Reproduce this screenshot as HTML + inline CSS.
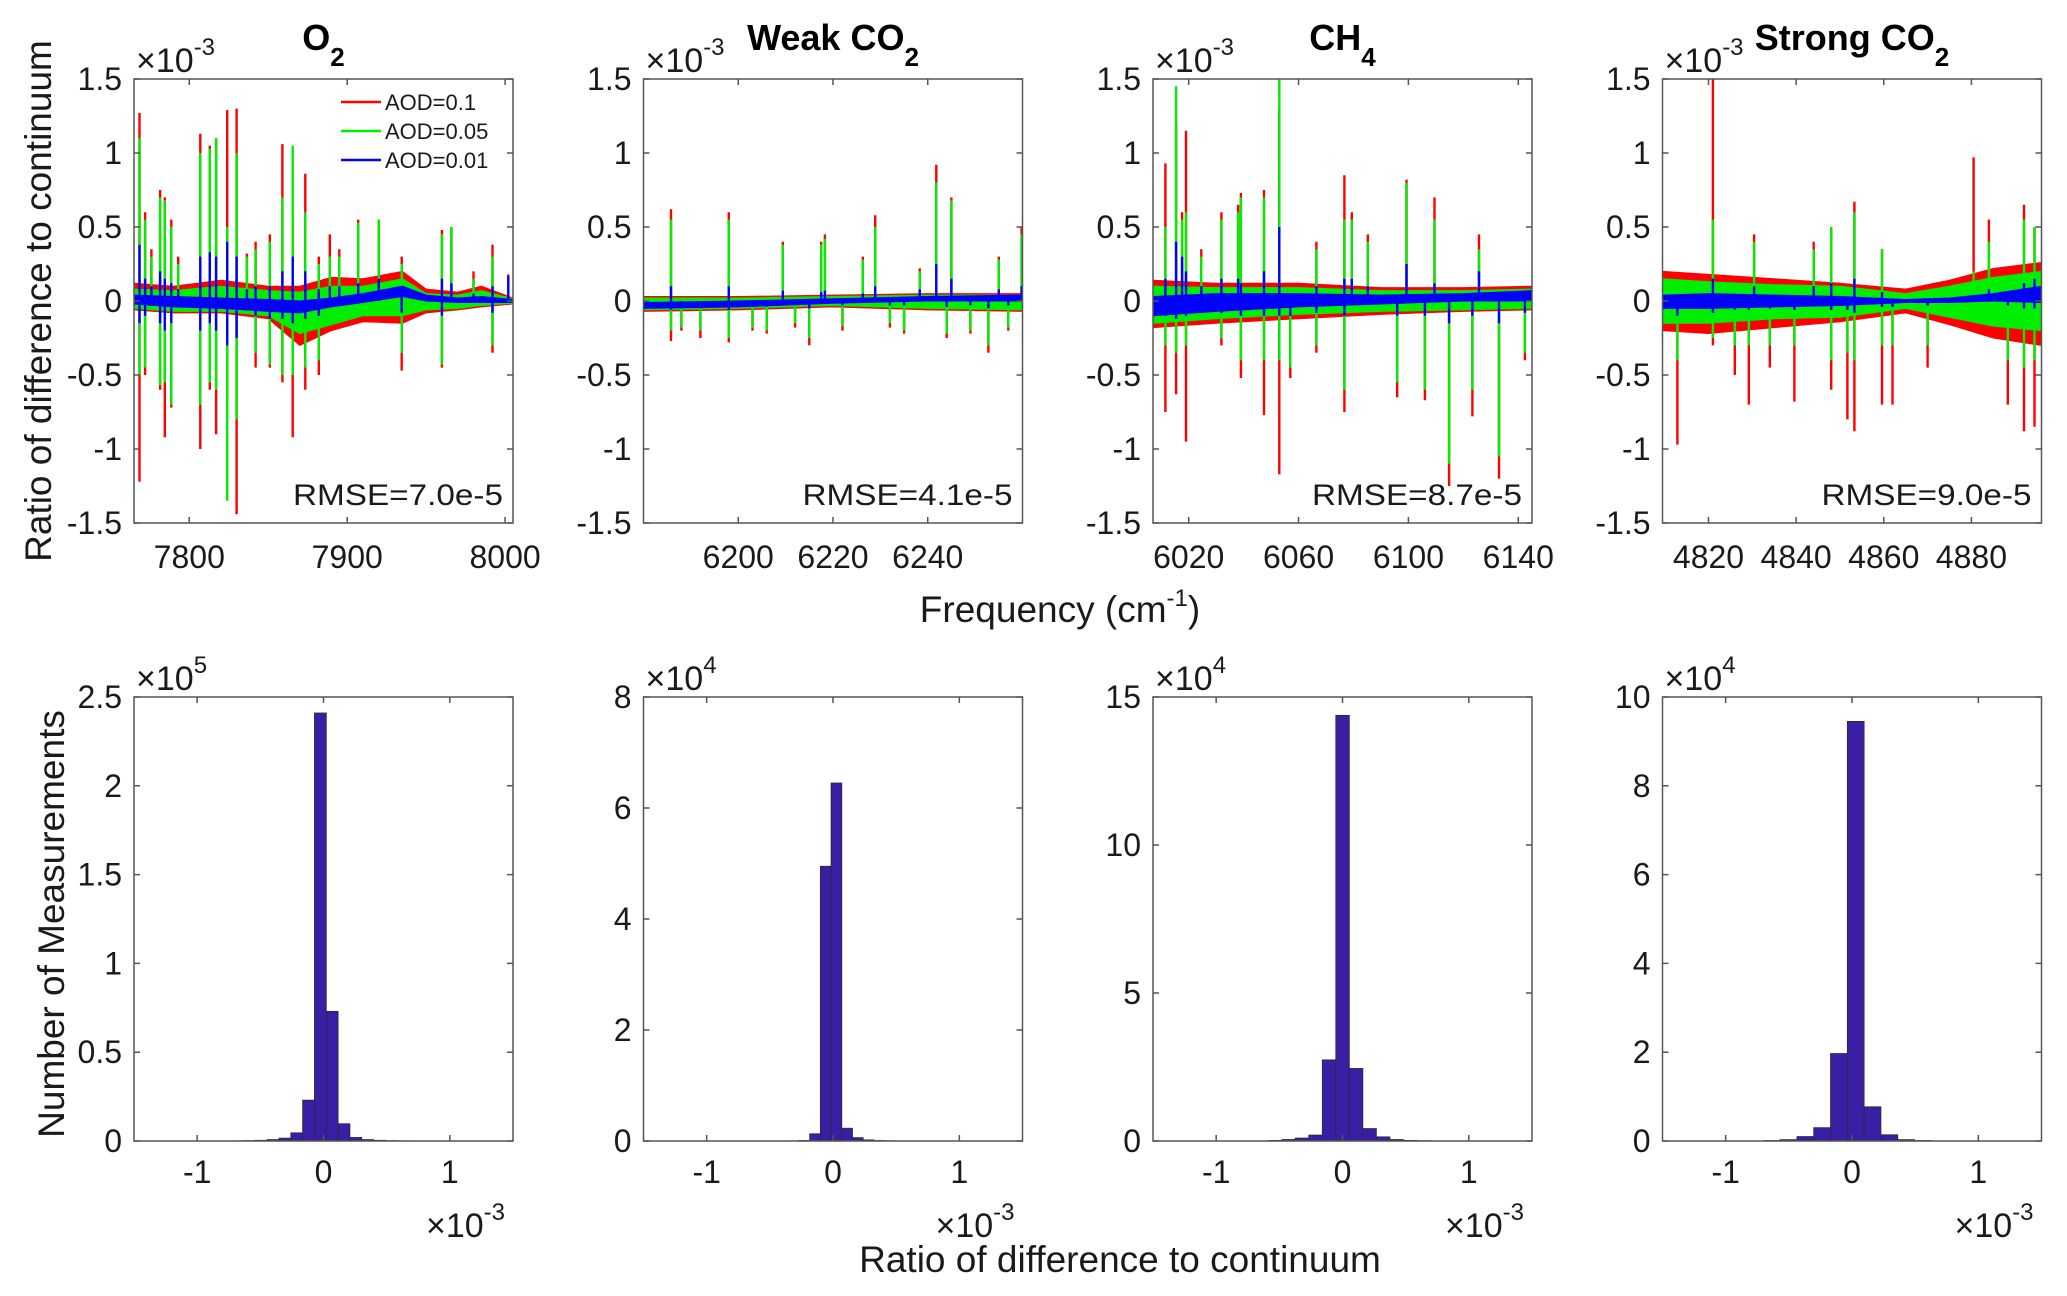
<!DOCTYPE html>
<html><head><meta charset="utf-8"><style>
html,body{margin:0;padding:0;background:#fff;}
svg{display:block;font-family:"Liberation Sans",Arial,sans-serif;}
</style></head><body>
<svg id="fig" xmlns="http://www.w3.org/2000/svg" width="2067" height="1296" viewBox="0 0 2067 1296">
<rect x="0" y="0" width="2067" height="1296" fill="#fff"/>
</svg>
<script>
// ---------- Spectra data (values in 1e-3) ----------
const o2EnvFreq = [7765,7790,7820,7850,7870,7890,7910,7935,7950,7970,7985,8005];
const o2RedHi = [0.12,0.1,0.14,0.1,0.1,0.16,0.15,0.2,0.08,0.06,0.1,0.02];
const o2RedLo = [-0.06,-0.08,-0.08,-0.12,-0.3,-0.2,-0.14,-0.15,-0.08,-0.06,-0.04,-0.02];
const o2GreenHi = [0.08,0.07,0.1,0.07,0.06,0.1,0.1,0.15,0.05,0.04,0.07,0.015];
const o2GreenLo = [-0.05,-0.07,-0.07,-0.1,-0.22,-0.16,-0.1,-0.1,-0.06,-0.05,-0.03,-0.015];
const o2BlueHi = [0.04,0.03,0.02,0.01,0.0,0.02,0.05,0.1,0.04,0.02,0.03,0.01];
const o2BlueLo = [-0.02,-0.04,-0.05,-0.07,-0.08,-0.04,-0.01,0.03,0.0,-0.01,-0.01,-0.01];
const o2SpikeFreq = [7768.5,7768.5,7772,7772,7776,7781.5,7781.5,7784.5,7784.5,7788.6,7788.6,7793,7807,7807,7813,7813,7817,7817,7824,7824,7830,7830,7836.5,7842,7842,7851,7851,7859,7859,7865.5,7865.5,7873.5,7873.5,7882,7882,7889,7895,7907,7920,7934.5,7934.5,7960,7960,7966,7980,7992,7992,8002];
const o2SpikeRed = [1.27,-1.22,0.6,-0.5,0.35,0.75,-0.6,0.7,-0.92,0.55,-0.72,0.3,1.13,-1.0,1.05,-0.6,1.1,-0.9,1.29,-0.65,1.3,-1.44,0.32,0.4,-0.45,0.45,-0.45,1.06,-0.55,0.55,-0.92,0.86,-0.6,0.3,-0.5,0.45,0.35,0.55,0.55,0.3,-0.47,0.48,-0.45,0.5,0.2,0.38,-0.35,0.18];
const o2SpikeGreen = [1.1,-0.5,0.55,-0.45,0.3,0.7,-0.57,0.68,-0.55,0.5,-0.7,0.25,1.0,-0.7,1.03,-0.55,1.1,-0.6,0.5,-1.35,1.0,-0.8,0.3,0.35,-0.35,0.4,-0.43,0.7,-0.5,1.05,-0.5,0.6,-0.45,0.25,-0.4,0.3,0.3,0.53,0.55,0.25,-0.35,0.45,-0.43,0.5,0.15,0.3,-0.3,0.17];
const o2SpikeBlue = [0.38,-0.15,0.15,-0.1,0.1,0.2,-0.15,0.15,-0.2,0.12,-0.15,0.08,0.3,-0.2,0.33,-0.15,0.3,-0.2,0.4,-0.3,0.3,-0.25,0.08,0.1,-0.1,0.1,-0.12,0.2,-0.12,0.3,-0.15,0.2,-0.12,0.08,-0.1,0.1,0.1,0.12,0.15,0.1,-0.08,0.15,-0.1,0.12,0.05,0.1,-0.08,0.17];

const wcEnvFreq = [6180,6200,6220,6240,6260];
const wcRedHi = [0.03,0.03,0.04,0.05,0.05];
const wcRedLo = [-0.07,-0.06,-0.04,-0.06,-0.07];
const wcGreenHi = [0.02,0.02,0.03,0.04,0.04];
const wcGreenLo = [-0.06,-0.05,-0.03,-0.05,-0.06];
const wcBlueHi = [-0.01,0.0,0.015,0.03,0.04];
const wcBlueLo = [-0.05,-0.04,-0.015,0.0,0.0];
const wcSpikeFreq = [6185.8,6185.8,6188,6192,6198,6198,6203,6206,6209.4,6212,6215,6217.5,6218.3,6222,6226.3,6228.9,6232,6235,6238.3,6241.8,6244,6245,6249,6252.8,6255,6257,6259.8];
const wcSpikeRed = [0.62,-0.27,-0.2,-0.25,0.6,-0.28,-0.2,-0.22,0.4,-0.18,-0.3,0.4,0.45,-0.2,0.3,0.58,-0.18,-0.22,0.22,0.92,-0.25,0.7,-0.22,-0.35,0.3,-0.2,0.5];
const wcSpikeGreen = [0.55,-0.2,-0.18,-0.2,0.55,-0.25,-0.18,-0.2,0.38,-0.15,-0.25,0.38,0.42,-0.17,0.28,0.5,-0.15,-0.2,0.2,0.8,-0.22,0.68,-0.2,-0.3,0.28,-0.18,0.45];
const wcSpikeBlue = [0.1,-0.06,-0.05,-0.05,0.1,-0.06,-0.04,-0.04,0.07,-0.03,-0.05,0.06,0.07,-0.03,0.05,0.1,-0.03,-0.03,0.08,0.25,-0.04,0.15,-0.03,-0.05,0.08,-0.03,0.1];

const chEnvFreq = [6007,6030,6060,6090,6120,6145];
const chRedHi = [0.14,0.12,0.12,0.09,0.09,0.1];
const chRedLo = [-0.18,-0.15,-0.12,-0.09,-0.07,-0.06];
const chGreenHi = [0.1,0.09,0.09,0.07,0.07,0.08];
const chGreenLo = [-0.15,-0.12,-0.09,-0.07,-0.06,-0.05];
const chBlueHi = [0.03,0.05,0.05,0.04,0.05,0.07];
const chBlueLo = [-0.1,-0.07,-0.04,-0.02,0.0,0.0];
const chSpikeFreq = [6011.5,6011.5,6015.4,6015.4,6017.6,6019,6019,6024.6,6031.9,6031.9,6038,6039,6039,6047.4,6047.4,6053,6053,6057,6066.5,6066.5,6076.7,6076.7,6079.4,6085.2,6095.9,6099.3,6106,6109.5,6114.8,6123.3,6125.7,6133,6142.4];
const chSpikeRed = [0.93,-0.75,1.2,-0.63,0.6,1.15,-0.95,0.35,0.6,-0.3,0.65,0.73,-0.52,0.75,-0.77,1.3,-1.17,-0.52,0.4,-0.35,0.85,-0.75,0.6,0.45,-0.65,0.82,-0.67,0.7,-1.25,-0.78,0.45,-1.2,-0.4];
const chSpikeGreen = [0.5,-0.3,1.45,-0.35,0.55,0.6,-0.3,0.3,0.55,-0.25,0.6,0.7,-0.4,0.7,-0.4,1.5,-0.4,-0.45,0.35,-0.3,0.55,-0.6,0.55,0.4,-0.55,0.8,-0.6,0.55,-1.1,-0.6,0.35,-1.05,-0.35];
const chSpikeBlue = [0.15,-0.1,0.4,-0.12,0.3,0.2,-0.1,0.1,0.15,-0.08,0.15,0.12,-0.1,0.2,-0.1,0.5,-0.1,-0.1,0.1,-0.08,0.15,-0.1,0.15,0.1,-0.1,0.25,-0.1,0.12,-0.15,-0.1,0.2,-0.15,-0.08];

const scEnvFreq = [4809.5,4820,4835,4850,4865,4875,4885,4896];
const scRedHi = [0.2,0.18,0.15,0.12,0.08,0.14,0.22,0.26];
const scRedLo = [-0.2,-0.22,-0.18,-0.14,-0.08,-0.16,-0.25,-0.3];
const scGreenHi = [0.15,0.13,0.11,0.1,0.05,0.1,0.16,0.2];
const scGreenLo = [-0.15,-0.15,-0.12,-0.11,-0.05,-0.11,-0.17,-0.2];
const scBlueHi = [0.04,0.05,0.04,0.03,0.01,0.02,0.05,0.1];
const scBlueLo = [-0.05,-0.05,-0.04,-0.03,-0.01,-0.01,0.0,-0.01];
const scSpikeFreq = [4812.9,4821,4821,4826,4829.2,4830.4,4834,4839.6,4844,4848,4848,4851.7,4853.3,4853.3,4859.6,4859.6,4862,4870,4880.5,4884,4888.3,4892,4892,4894.4,4894.4];
const scSpikeRed = [-0.97,1.5,-0.3,-0.5,-0.7,0.45,-0.45,-0.68,0.4,0.5,-0.6,-0.8,0.67,-0.88,0.35,-0.7,-0.7,-0.45,0.97,0.55,-0.7,0.65,-0.88,0.5,-0.85];
const scSpikeGreen = [-0.4,0.55,-0.25,-0.3,-0.3,0.4,-0.3,-0.3,0.35,0.5,-0.4,-0.35,0.6,-0.4,0.35,-0.3,-0.3,-0.3,0.2,0.4,-0.4,0.55,-0.45,0.5,-0.4];
const scSpikeBlue = [-0.1,0.15,-0.08,-0.06,-0.06,0.1,-0.05,-0.06,0.1,0.12,-0.06,-0.06,0.15,-0.08,0.06,-0.04,-0.04,-0.03,0.04,0.08,-0.03,0.12,-0.05,0.15,-0.05];

const o2XTicks = [7800,7900,8000];
const wcXTicks = [6200,6220,6240];
const chXTicks = [6020,6060,6100,6140];
const scXTicks = [4820,4840,4860,4880];
const specYTicks = [-1.5,-1,-0.5,0,0.5,1,1.5];
const specYLabels = ["-1.5","-1","-0.5","0","0.5","1","1.5"];
const rmseLabels = ["RMSE=7.0e-5","RMSE=4.1e-5","RMSE=8.7e-5","RMSE=9.0e-5"];
const panelTitles = ["O","Weak CO","CH","Strong CO"];
const titleSubs = ["2","2","4","2"];

// ---------- Histogram data (x in 1e-3, counts in panel exponent units) ----------
const o2BinStart = -0.726, o2BinWidth = 0.0935;
const o2Counts = [0.001,0.002,0.004,0.008,0.016,0.046,0.23,2.41,0.73,0.097,0.02,0.008,0.004,0.002,0.001];
const wcBinStart = -0.354, wcBinWidth = 0.0847;
const wcCounts = [0.003,0.01,0.13,4.95,6.45,0.23,0.06,0.02,0.008,0.004];
const chBinStart = -0.588, chBinWidth = 0.107;
const chCounts = [0.02,0.05,0.1,0.2,2.74,14.38,2.45,0.42,0.14,0.05,0.02,0.01];
const scBinStart = -0.702, scBinWidth = 0.133;
const scCounts = [0.01,0.03,0.1,0.3,1.97,9.45,0.77,0.14,0.03,0.01];
const histXTicks = [-1,0,1];
const o2HistYTicks = [0,0.5,1,1.5,2,2.5];
const wcHistYTicks = [0,2,4,6,8];
const chHistYTicks = [0,5,10,15];
const scHistYTicks = [0,2,4,6,8,10];
const histExponents = ["5","4","4","4"];

const NS = "http://www.w3.org/2000/svg";
const svg = document.getElementById('fig');
function mk(tag, attrs, parent) {
  const e = document.createElementNS(NS, tag);
  for (const k in attrs) e.setAttribute(k, attrs[k]);
  (parent || svg).appendChild(e);
  return e;
}
const PL = [134, 643.5, 1153, 1662.5], PW = 379;
const TOP1 = 79, BOT1 = 523, TOP2 = 697, BOT2 = 1141;
const AX = "#555";
const TICK = 32;

function txt(str, x, y, size, anchor, parent, weight) {
  const t = mk('text', {x: x, y: y, 'font-size': size, 'text-anchor': anchor || 'middle', fill: '#1a1a1a'}, parent);
  if (weight) t.setAttribute('font-weight', weight);
  t.textContent = str;
  return t;
}
function expLabel(x, y, exp, parent, anchor) {
  const t = mk('text', {x: x, y: y, 'font-size': 34, fill: '#1a1a1a', 'text-anchor': anchor || 'start'}, parent);
  const a = document.createElementNS(NS, 'tspan'); a.textContent = '\u00d710'; t.appendChild(a);
  const b = document.createElementNS(NS, 'tspan'); b.setAttribute('dy', -17); b.setAttribute('font-size', 24); b.textContent = exp; t.appendChild(b);
  return t;
}

const specPanels = [
  {key:'o2', xmin:7765, xmax:8005, ticks:o2XTicks, env:[o2EnvFreq,o2RedHi,o2RedLo,o2GreenHi,o2GreenLo,o2BlueHi,o2BlueLo], sp:[o2SpikeFreq,o2SpikeRed,o2SpikeGreen,o2SpikeBlue]},
  {key:'weak-co2', xmin:6180, xmax:6260, ticks:wcXTicks, env:[wcEnvFreq,wcRedHi,wcRedLo,wcGreenHi,wcGreenLo,wcBlueHi,wcBlueLo], sp:[wcSpikeFreq,wcSpikeRed,wcSpikeGreen,wcSpikeBlue]},
  {key:'ch4', xmin:6007, xmax:6145, ticks:chXTicks, env:[chEnvFreq,chRedHi,chRedLo,chGreenHi,chGreenLo,chBlueHi,chBlueLo], sp:[chSpikeFreq,chSpikeRed,chSpikeGreen,chSpikeBlue]},
  {key:'strong-co2', xmin:4809.5, xmax:4896, ticks:scXTicks, env:[scEnvFreq,scRedHi,scRedLo,scGreenHi,scGreenLo,scBlueHi,scBlueLo], sp:[scSpikeFreq,scSpikeRed,scSpikeGreen,scSpikeBlue]}
];
const colors = ['#ff0000','#00ee00','#0000ff'];
const seriesNames = ['aod-0.1','aod-0.05','aod-0.01'];

specPanels.forEach((p, i) => {
  const L = PL[i], R = L + PW;
  const xs = v => L + (v - p.xmin) / (p.xmax - p.xmin) * PW;
  const ys = v => BOT1 - (v + 1.5) / 3 * (BOT1 - TOP1);
  const g = mk('g', {});
  
  
  const clipId = 'clip' + i;
  const cp = mk('clipPath', {id: clipId}, g);
  mk('rect', {x: L, y: TOP1, width: PW, height: BOT1 - TOP1}, cp);
  const plot = mk('g', {'clip-path': 'url(#' + clipId + ')'}, g);
  for (let s = 0; s < 3; s++) {
    const f = p.env[0], hi = p.env[1 + s * 2], lo = p.env[2 + s * 2];
    let pts = [];
    for (let k = 0; k < f.length; k++) pts.push(xs(f[k]) + ',' + ys(hi[k]));
    for (let k = f.length - 1; k >= 0; k--) pts.push(xs(f[k]) + ',' + ys(lo[k]));
    const band = mk('polygon', {points: pts.join(' '), fill: colors[s], stroke: colors[s], 'stroke-width': 1}, plot);
    
    
    const sf = p.sp[0], sv = p.sp[1 + s];
    const n = Math.min(sf.length, sv.length);
    let d = '';
    for (let k = 0; k < n; k++) d += 'M' + xs(sf[k]).toFixed(1) + ',' + ys(0).toFixed(1) + 'V' + ys(sv[k]).toFixed(1);
    const sp = mk('path', {d: d, stroke: colors[s], 'stroke-width': 2.4, fill: 'none'}, plot);
    
    
  }
  const box = mk('rect', {x: L, y: TOP1, width: PW, height: BOT1 - TOP1, fill: 'none', stroke: AX, 'stroke-width': 1.5}, g);
  
  
  p.ticks.forEach(t => {
    const x = xs(t);
    mk('path', {d: 'M' + x + ',' + BOT1 + 'v-6M' + x + ',' + TOP1 + 'v6', stroke: AX, 'stroke-width': 1.5}, g);
    const tl = txt(String(t), x, 568, TICK, 'middle', g);
    
    
  });
  specYTicks.forEach((t, k) => {
    const y = ys(t);
    mk('path', {d: 'M' + L + ',' + y + 'h6M' + R + ',' + y + 'h-6', stroke: AX, 'stroke-width': 1.5}, g);
    const tl = txt(specYLabels[k], L - 12, y + 11, TICK, 'end', g);
    
    
  });
  const ex = expLabel(L + 2, 72, '-3', g);
  
  
  const rm = txt(rmseLabels[i], R - 10, 505, 30, 'end', g);
  rm.setAttribute('textLength', 210);
  rm.setAttribute('lengthAdjust', 'spacingAndGlyphs');
  
  
  const tt = mk('text', {x: L + PW / 2, y: 50, 'font-size': 36, 'font-weight': 'bold', 'text-anchor': 'middle', fill: '#000'}, g);
  const a = document.createElementNS(NS, 'tspan'); a.textContent = panelTitles[i]; tt.appendChild(a);
  const b = document.createElementNS(NS, 'tspan'); b.setAttribute('dy', 16); b.setAttribute('font-size', 26); b.textContent = titleSubs[i]; tt.appendChild(b);
  
  
});

const legendLabels = ['AOD=0.1','AOD=0.05','AOD=0.01'];
const lg = mk('g', {});


legendLabels.forEach((lab, k) => {
  const y = 102 + k * 29;
  const ln = mk('line', {x1: 341, x2: 381, y1: y, y2: y, stroke: colors[k], 'stroke-width': 2.5}, lg);
  
  
  const t = txt(lab, 385, y + 8, 22, 'start', lg);
  
  
});

const histPanels = [
  {key:'o2', start:o2BinStart, w:o2BinWidth, counts:o2Counts, yt:o2HistYTicks},
  {key:'weak-co2', start:wcBinStart, w:wcBinWidth, counts:wcCounts, yt:wcHistYTicks},
  {key:'ch4', start:chBinStart, w:chBinWidth, counts:chCounts, yt:chHistYTicks},
  {key:'strong-co2', start:scBinStart, w:scBinWidth, counts:scCounts, yt:scHistYTicks}
];
histPanels.forEach((h, i) => {
  const L = PL[i], R = L + PW;
  const ymax = h.yt[h.yt.length - 1];
  const xs = v => L + (v + 1.5) / 3 * PW;
  const ys = v => BOT2 - v / ymax * (BOT2 - TOP2);
  const g = mk('g', {});
  
  
  h.counts.forEach((c, k) => {
    const x0 = xs(h.start + k * h.w), x1 = xs(h.start + (k + 1) * h.w);
    const bar = mk('rect', {x: x0, y: ys(c), width: x1 - x0, height: BOT2 - ys(c), fill: '#3a1fa6', stroke: '#2a2a2a', 'stroke-width': 0.8}, g);
    
    
  });
  const box = mk('rect', {x: L, y: TOP2, width: PW, height: BOT2 - TOP2, fill: 'none', stroke: AX, 'stroke-width': 1.5}, g);
  
  
  histXTicks.forEach(t => {
    const x = xs(t);
    mk('path', {d: 'M' + x + ',' + BOT2 + 'v-6M' + x + ',' + TOP2 + 'v6', stroke: AX, 'stroke-width': 1.5}, g);
    const tl = txt(String(t), x, 1183, TICK, 'middle', g);
    
    
  });
  h.yt.forEach(t => {
    const y = ys(t);
    mk('path', {d: 'M' + L + ',' + y + 'h6M' + R + ',' + y + 'h-6', stroke: AX, 'stroke-width': 1.5}, g);
    const tl = txt(String(t), L - 12, y + 11, TICK, 'end', g);
    
    
  });
  const ey = expLabel(L + 2, 690, histExponents[i], g);
  
  
  const exx = expLabel(R - 8, 1237, '-3', g, 'end');
  
  
});

const yl1 = txt('Ratio of difference to continuum', 0, 0, 37, 'middle');
yl1.setAttribute('transform', 'translate(51,301) rotate(-90)');


const yl2 = txt('Number of Measurements', 0, 0, 37, 'middle');
yl2.setAttribute('transform', 'translate(64,924) rotate(-90)');


const fx = mk('text', {x: 1060, y: 622, 'font-size': 37, 'text-anchor': 'middle', fill: '#1a1a1a'});
const f1 = document.createElementNS(NS, 'tspan'); f1.textContent = 'Frequency (cm'; fx.appendChild(f1);
const f2 = document.createElementNS(NS, 'tspan'); f2.setAttribute('dy', -16); f2.setAttribute('font-size', 24); f2.textContent = '-1'; fx.appendChild(f2);
const f3 = document.createElementNS(NS, 'tspan'); f3.setAttribute('dy', 16); f3.textContent = ')'; fx.appendChild(f3);


const bx = txt('Ratio of difference to continuum', 1120, 1272, 37, 'middle');


</script>
</body></html>
